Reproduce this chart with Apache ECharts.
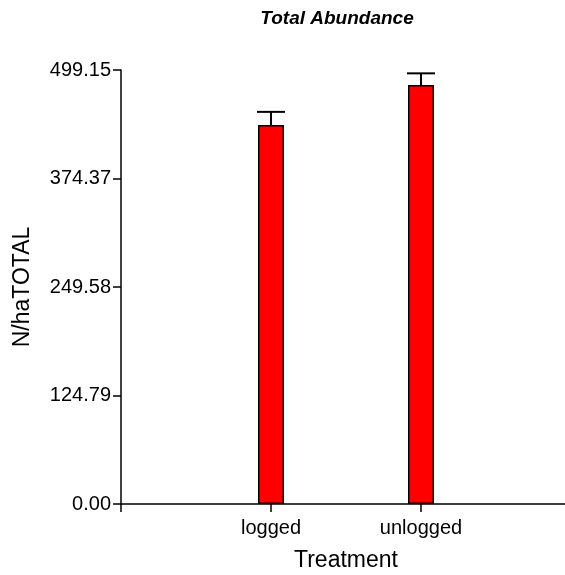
<!DOCTYPE html>
<html>
<head>
<meta charset="utf-8">
<script src="https://cdn.jsdelivr.net/npm/echarts@6/dist/echarts.min.js"></script>
<style>html,body{margin:0;padding:0;background:#fff;}#c{width:565px;height:575px;}</style>
</head>
<body>
<div id="c"></div>
<script>
var categories = ['logged', 'unlogged'];
var means = [436, 482];
var errors = [15, 13.3];
var yTickLabels = ['0.00', '124.79', '249.58', '374.37', '499.15'];
var yMax = 499.15;
var yInterval = yMax / 4;

var FONT = '"Liberation Sans", Arial, sans-serif';
var chart = echarts.init(document.getElementById('c'));
var barData = categories.map(function (c, i) { return [i + 1, means[i]]; });
var errData = categories.map(function (c, i) { return [i + 1, means[i], means[i] + errors[i]]; });

chart.setOption({
  animation: false,
  title: {
    text: 'Total Abundance',
    left: 337, top: 9, padding: 0, textAlign: 'center',
    textStyle: { fontFamily: FONT, fontSize: 19, fontWeight: 'bold', fontStyle: 'italic', color: '#000' }
  },
  grid: { left: 121, top: 70, bottom: 71, right: -6, outerBoundsMode: 'none', containLabel: false },
  xAxis: {
    type: 'value', min: 0, max: 3, interval: 1,
    name: 'Treatment', nameLocation: 'middle', nameGap: 45,
    nameTextStyle: { fontFamily: FONT, fontSize: 23, color: '#000' },
    axisLine: { show: true, onZero: false, lineStyle: { color: '#000', width: 1.5 } },
    axisTick: { show: true, length: 8, lineStyle: { color: '#000', width: 1.5 } },
    axisLabel: {
      margin: 14, fontFamily: FONT, fontSize: 20, color: '#000',
      formatter: function (v) { var i = Math.round(v) - 1; return (i >= 0 && i < categories.length) ? categories[i] : ''; }
    },
    splitLine: { show: false }
  },
  yAxis: {
    type: 'value', min: 0, max: yMax, interval: yInterval,
    name: 'N/haTOTAL', nameLocation: 'middle', nameGap: 87, nameRotate: 90,
    nameTextStyle: { fontFamily: FONT, fontSize: 23, color: '#000' },
    axisLine: { show: true, lineStyle: { color: '#000', width: 1.5 } },
    axisTick: { show: true, length: 8, lineStyle: { color: '#000', width: 1.5 } },
    axisLabel: {
      margin: 10, fontFamily: FONT, fontSize: 20, color: '#000',
      formatter: function (v) { var i = Math.round(v / yInterval); return yTickLabels[i] || ''; }
    },
    splitLine: { show: false }
  },
  series: [
    {
      type: 'bar', data: barData, barWidth: 26,
      itemStyle: { color: '#ff0000', borderColor: '#000', borderWidth: 1.5 }
    },
    {
      type: 'custom', data: errData, z: 3,
      renderItem: function (params, api) {
        var x = api.value(0);
        var p0 = api.coord([x, api.value(1)]);
        var p1 = api.coord([x, api.value(2)]);
        var hw = 14;
        return {
          type: 'group',
          children: [
            { type: 'line', shape: { x1: p0[0], y1: p0[1], x2: p1[0], y2: p1[1] }, style: { stroke: '#000', lineWidth: 2 } },
            { type: 'line', shape: { x1: p1[0] - hw, y1: p1[1], x2: p1[0] + hw, y2: p1[1] }, style: { stroke: '#000', lineWidth: 2 } }
          ]
        };
      }
    }
  ]
});
</script>
</body>
</html>
